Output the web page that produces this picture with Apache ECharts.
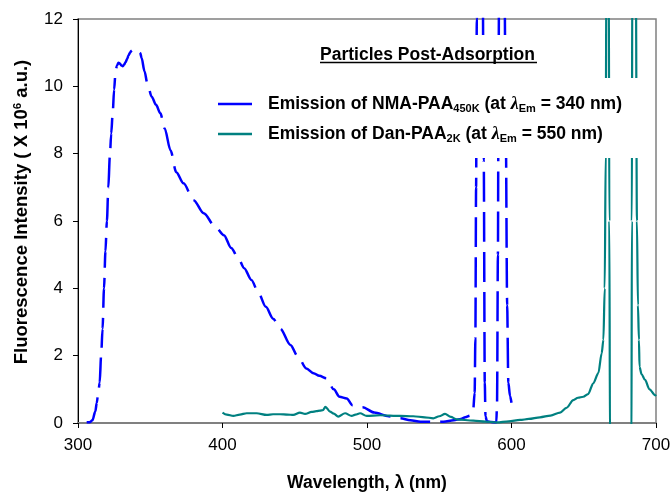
<!DOCTYPE html>
<html><head><meta charset="utf-8">
<script src="https://cdn.jsdelivr.net/npm/echarts@6/dist/echarts.min.js"></script>
<style>html,body{margin:0;padding:0;background:#fff}#c{width:672px;height:493px}</style>
</head><body><div id="c"></div>
<script>
// ---- data ----
const nmaWavelength = [306,308,310,312,313,314,315,316,317,318,319,320,321,322,323,324,325,326,327,328,329,330,331,332,333,334,335,336,337,338,339,340,341,342,343,
  344,346,348,351,354,357,360,364,368,373,
  380,387,395,401,406,411,415,420,425,430,435,440,
  447,452,458,463,467,472,477,481,486,490,497,
  505,515,523,530,537,542,548,553,560,565,568,
  571.5,573.5,574.5,575,575.5,576,577,578.5,580,580.8,581.5,582,583,586,589.5,
  590,590.6,591,591.5,593,595,596,597,597.8,599,600];
const nmaIntensity = [0.02,0.02,0.08,0.35,0.6,0.9,1.2,2.0,2.8,4.0,5.1,6.0,7.0,7.9,8.6,9.2,9.9,10.45,10.62,10.7,10.68,10.62,10.6,10.65,10.72,10.82,10.92,11.0,11.06,11.1,11.12,11.1,11.08,11.05,11.0,
  10.85,10.45,10.09,9.69,9.45,9.2,8.75,8.1,7.45,7.12,
  6.62,6.23,5.83,5.58,5.2,4.89,4.6,4.25,3.85,3.45,3.1,2.8,
  2.32,1.99,1.62,1.48,1.4,1.33,1.0,0.78,0.73,0.53,0.47,
  0.31,0.2,0.14,0.08,0.04,0.04,0.03,0.04,0.08,0.12,0.17,
  0.22,0.4,0.9,2.5,7,12,18,20,14,7.8,1.2,0.2,0.05,0.03,0.02,
  0.6,5,10,14,20,14,9,3.5,1.2,0.8,0.6];

const danWavelength = [400,403,407.5,412,416.7,423.6,430.6,435,439.8,445,449,453.6,457.1,461.7,465,467.5,469.5,471.2,474.4,477,
  480.1,484.8,489.4,492,495.2,499.8,509,522.8,532,540,545.9,550,554,558,562,573.6,582,589.8,598,605.9,
  612,619.7,627,633.6,638,642.8,646,649.7,653,656.6,660.1,662.4,663.6,664.5,665.2,665.7,666.5,667.3,667.7,668.2,
  683,683.3,683.6,685,686,686.8,687.5,688.2,688.6,690,692.4,695.5,699.3,700];
const danIntensity = [0.31,0.25,0.21,0.25,0.29,0.29,0.24,0.26,0.26,0.25,0.24,0.31,0.27,0.33,0.35,0.37,0.38,0.48,0.34,0.28,
  0.19,0.29,0.21,0.25,0.29,0.21,0.23,0.21,0.2,0.17,0.14,0.2,0.27,0.18,0.11,0.07,0.04,0.02,0.05,0.09,
  0.12,0.17,0.22,0.31,0.45,0.68,0.75,0.78,0.86,1.18,1.48,2.07,2.47,4,8,14,20,14,6,-1,
  -1,6,14,20,14,6,3.5,2.47,1.67,1.45,1.28,1.0,0.83,0.8];

const xTicks = [300, 400, 500, 600, 700];
const yTicks = [0, 2, 4, 6, 8, 10, 12];

const seriesNames = ['Emission of NMA-PAA450K (at λEm = 340 nm)', 'Emission of Dan-PAA2K (at λEm = 550 nm)'];
const legendRich = {};
legendRich[seriesNames[0]] = 'Emission of NMA-PAA{sub|450K} (at {lam|λ}{sub|Em} = 340 nm)';
legendRich[seriesNames[1]] = 'Emission of Dan-PAA{sub|2K} (at {lam|λ}{sub|Em} = 550 nm)';
const chartTitle = 'Particles Post-Adsorption';
const xName = 'Wavelength, λ (nm)';
const yName = 'Fluorescence Intensity ( X 10{sup|6} a.u.)';

const FONT = 'Liberation Sans, Arial, Helvetica, sans-serif';
const zip = (xs, ys) => xs.map((x, i) => [x, ys[i]]);

const chart = echarts.init(document.getElementById('c'), null, {renderer: 'canvas'});
chart.setOption({
  animation: false,
  backgroundColor: '#fff',
  title: {
    text: chartTitle, left: 320, top: 45, padding: 0,
    textStyle: {fontFamily: FONT, fontSize: 17.5, fontWeight: 'bold', color: '#000', lineHeight: 20}
  },
  grid: {left: 78, right: 16, top: 19, bottom: 70, containLabel: false, outerBoundsMode: 'none',
    show: true, borderColor: '#808080', borderWidth: 1.5, backgroundColor: 'transparent'},
  legend: {
    orient: 'vertical', left: 218, top: 94, padding: 0, itemGap: 10,
    itemWidth: 34, itemHeight: 2.6, icon: 'rect', selectedMode: false,
    data: seriesNames,
    formatter: name => legendRich[name],
    textStyle: {
      fontFamily: FONT, fontSize: 17.5, fontWeight: 'bold', color: '#000', lineHeight: 20, padding: [0, 0, 0, 11],
      rich: {
        sub: {fontFamily: FONT, fontSize: 11, fontWeight: 'bold', color: '#000', verticalAlign: 'bottom', lineHeight: 11},
        lam: {fontFamily: 'Liberation Serif, serif', fontSize: 18, fontWeight: 'bold', fontStyle: 'italic', color: '#000', lineHeight: 20}
      }
    }
  },
  graphic: [
    {type: 'rect', z: 3, shape: {x: 300, y: 35, width: 262, height: 44}, style: {fill: '#fff'}},
    {type: 'rect', z: 3, shape: {x: 212, y: 78, width: 436, height: 80}, style: {fill: '#fff'}},
    {type: 'line', z: 10, shape: {x1: 320, y1: 62.5, x2: 537, y2: 62.5}, style: {stroke: '#000', lineWidth: 1.3}}
  ],
  xAxis: {
    type: 'value', min: xTicks[0], max: xTicks[xTicks.length - 1], interval: 100,
    axisLine: {show: true, lineStyle: {color: '#808080', width: 2}},
    axisTick: {show: true, length: 5, lineStyle: {color: '#000', width: 1}},
    axisLabel: {fontFamily: FONT, fontSize: 17, color: '#000', margin: 14},
    splitLine: {show: false},
    name: xName, nameLocation: 'middle', nameGap: 51,
    nameTextStyle: {fontFamily: FONT, fontSize: 17.5, fontWeight: 'bold', color: '#000'}
  },
  yAxis: {
    type: 'value', min: yTicks[0], max: yTicks[yTicks.length - 1], interval: 2,
    axisLine: {show: true, lineStyle: {color: '#000', width: 1}},
    axisTick: {show: true, length: 5, lineStyle: {color: '#000', width: 1}},
    axisLabel: {fontFamily: FONT, fontSize: 17, color: '#000', margin: 15},
    splitLine: {show: false},
    name: yName, nameLocation: 'middle', nameGap: 46,
    nameTextStyle: {
      fontFamily: FONT, fontSize: 18.5, fontWeight: 'bold', color: '#000', lineHeight: 20, padding: [0, 0, 0, 18],
      rich: {sup: {fontFamily: FONT, fontSize: 11.5, fontWeight: 'bold', color: '#000', verticalAlign: 'top', lineHeight: 11}}
    }
  },
  series: [
    {
      name: seriesNames[0], type: 'line', symbol: 'none', clip: true,
      smooth: 0.3, smoothMonotone: 'x',
      data: zip(nmaWavelength, nmaIntensity),
      lineStyle: {color: '#0000ff', width: 2.5, type: [30, 10]},
      itemStyle: {color: '#0000ff'}, z: 2
    },
    {
      name: seriesNames[1], type: 'line', symbol: 'none', clip: true,
      smooth: 0.3, smoothMonotone: 'x',
      data: zip(danWavelength, danIntensity),
      lineStyle: {color: '#008080', width: 2.2, type: 'solid'},
      itemStyle: {color: '#008080'}, z: 2
    }
  ]
});
</script>
</body></html>
